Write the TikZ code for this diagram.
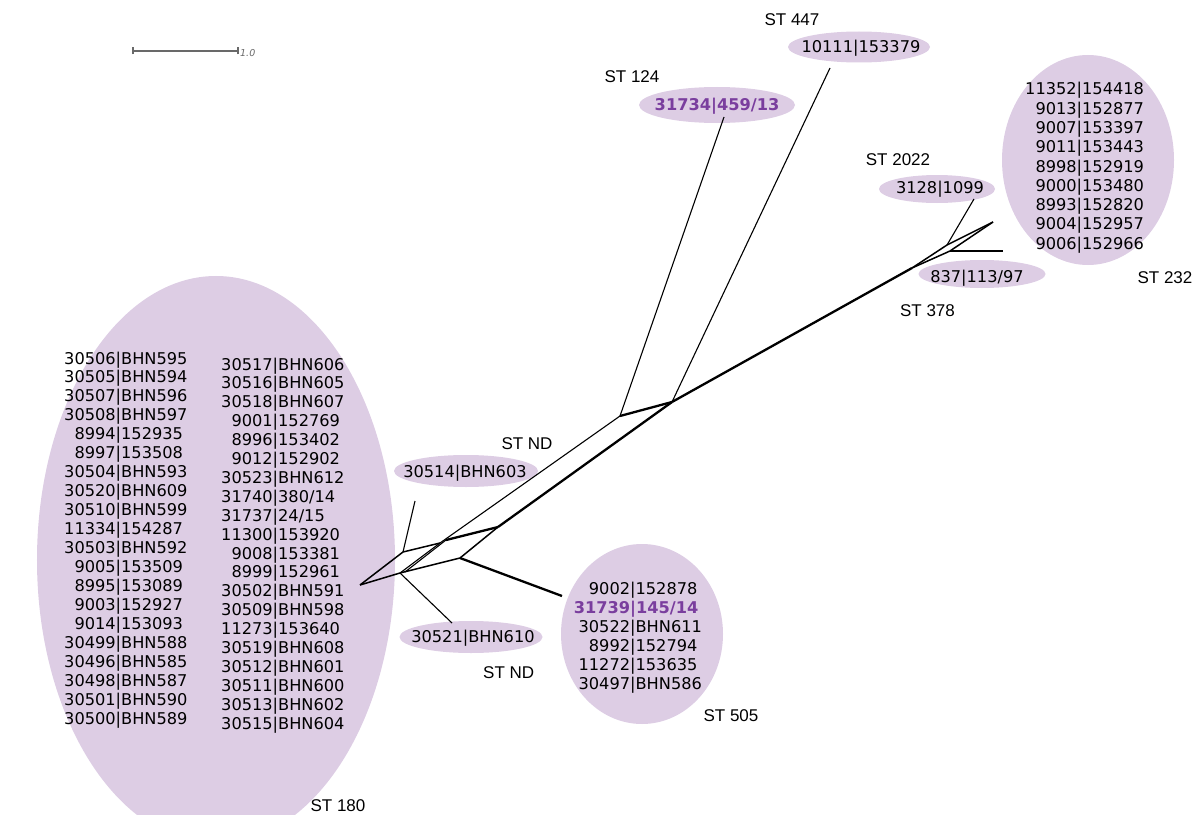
\documentclass[tikz,border=0pt]{standalone}
\usepackage{fontspec}
\setmainfont{DejaVu Sans}
\newfontfamily\lblfont{Liberation Sans}
\usetikzlibrary{shapes.geometric}
\definecolor{blobfill}{RGB}{221,205,228}
\definecolor{hl}{RGB}{122,62,158}
\definecolor{scalegray}{RGB}{105,105,105}
\begin{document}
\begin{tikzpicture}[x=1bp,y=-1bp,
  blob/.style={ellipse, fill=blobfill, draw=none, inner sep=0pt},
  num/.style={font=\fontsize{16.2bp}{19bp}\selectfont, inner sep=0pt, anchor=base},
  numbold/.style={num, font=\fontsize{16.2bp}{19bp}\selectfont\bfseries, text=hl},
  lst/.style={inner sep=0pt, anchor=base west},
  stlbl/.style={font=\lblfont\fontsize{17bp}{20bp}\selectfont, inner sep=0pt, anchor=base},
  lthin/.style={line width=1.1bp},
  lmid/.style={line width=1.5bp},
  lthick/.style={line width=2.3bp},
  sbar/.style={draw=scalegray, line width=1.2bp}
]
\useasboundingbox (0,0) rectangle (1199,815);
\clip (0,0) rectangle (1199,815);

% ---------- cluster ellipses ----------
\node[blob, minimum width=358bp, minimum height=568bp] (c180) at (216,560) {};
\node[blob, minimum width=172bp, minimum height=210bp] (c232) at (1088,160) {};
\node[blob, minimum width=162bp, minimum height=180bp] (c505) at (642,634) {};
\node[blob, minimum width=142bp, minimum height=31bp] (c447) at (859,47) {};
\node[blob, minimum width=156bp, minimum height=36bp] (c124) at (717,105) {};
\node[blob, minimum width=116bp, minimum height=28bp] (c2022) at (937,189) {};
\node[blob, minimum width=127bp, minimum height=28bp] (c378) at (982,274) {};
\node[blob, minimum width=144bp, minimum height=32bp] (cnd1) at (466,471) {};
\node[blob, minimum width=143bp, minimum height=32bp] (cnd2) at (471,637) {};

% ---------- network ----------
\coordinate (T) at (360,585);
\coordinate (A) at (403,552);
\coordinate (E) at (400,573);
\coordinate (E2) at (405,572);
\coordinate (B1) at (440,543);
\coordinate (B2) at (446,540);
\coordinate (C) at (498,527);
\coordinate (D) at (460,558);
\coordinate (P) at (620,416);
\coordinate (Q) at (672,402);
\coordinate (R) at (912,268);
\coordinate (S1) at (947,245);
\coordinate (S2) at (950,251);
\coordinate (U) at (993,222);
\coordinate (LA) at (415,501);
\coordinate (LE) at (452,623);
\coordinate (LD) at (562,596);
\coordinate (L124) at (724,117);
\coordinate (L447) at (830,68);
\coordinate (L2022) at (974,199);
\coordinate (L378) at (1003,251);

\draw[lmid] (T) -- (A);
\draw[lmid] (T) -- (E);
\draw[lthin] (A) -- (LA);
\draw[lthin] (E) -- (LE);
\draw[lmid] (A) -- (B1);
\draw[lthin] (E) -- (B1);
\draw[lthin] (E2) -- (B2);
\draw[lthin] (B1) -- (P);
\draw[lthick] (B2) -- (C);
\draw[lmid] (E) -- (D);
\draw[lmid] (D) -- (C);
\draw[lthick] (D) -- (LD);
\draw[lthick] (C) -- (Q);
\draw[lthick] (P) -- (Q);
\draw[lthin] (P) -- (L124);
\draw[lthin] (Q) -- (L447);
\draw[lthick] (Q) -- (R);
\draw[lmid] (R) -- (S1) -- (U);
\draw[lmid] (R) -- (S2) -- (U);
\draw[lthin] (S1) -- (L2022);
\draw[lthin] (S2) -- (L378);

% ---------- scale bar ----------
\coordinate (sb1) at (133,51);
\coordinate (sb2) at (238,51);
\draw[sbar] (sb1) -- (sb2);
\draw[sbar] ([yshift=-3.5bp]sb1) -- ([yshift=3.5bp]sb1);
\draw[sbar] ([yshift=-3.5bp]sb2) -- ([yshift=3.5bp]sb2);
\node[inner sep=0pt, anchor=base west, text=scalegray,
  font=\fontsize{9.5bp}{11bp}\selectfont\itshape] (sblbl) at (240,56.5) {1.0};

% ---------- single-strain labels ----------
\node[num] (t447) at (861,53) {10111|153379};
\node[numbold] (t124) at (717,111) {31734|459/13};
\node[num] (t2022) at (940,193) {3128|1099};
\node[num] (t378) at (977,282) {837|113/97};
\node[num] (tnd1) at (465,477) {30514|BHN603};
\node[num] (tnd2) at (473,642) {30521|BHN610};

% ---------- multi-strain lists ----------
\node[lst] (l180a) at (64,364) {\fontsize{16.2bp}{18.95bp}\selectfont
\begin{tabular}[t]{@{}r@{}l@{}}
30506 & |BHN595\\
30505 & |BHN594\\
30507 & |BHN596\\
30508 & |BHN597\\
8994 & |152935\\
8997 & |153508\\
30504 & |BHN593\\
30520 & |BHN609\\
30510 & |BHN599\\
11334 & |154287\\
30503 & |BHN592\\
9005 & |153509\\
8995 & |153089\\
9003 & |152927\\
9014 & |153093\\
30499 & |BHN588\\
30496 & |BHN585\\
30498 & |BHN587\\
30501 & |BHN590\\
30500 & |BHN589
\end{tabular}};

\node[lst] (l180b) at (221,370) {\fontsize{16.2bp}{18.9bp}\selectfont
\begin{tabular}[t]{@{}r@{}l@{}}
30517 & |BHN606\\
30516 & |BHN605\\
30518 & |BHN607\\
9001 & |152769\\
8996 & |153402\\
9012 & |152902\\
30523 & |BHN612\\
31740 & |380/14\\
31737 & |24/15\\
11300 & |153920\\
9008 & |153381\\
8999 & |152961\\
30502 & |BHN591\\
30509 & |BHN598\\
11273 & |153640\\
30519 & |BHN608\\
30512 & |BHN601\\
30511 & |BHN600\\
30513 & |BHN602\\
30515 & |BHN604
\end{tabular}};

\node[lst] (l232) at (1025,95) {\fontsize{16.2bp}{19.25bp}\selectfont
\begin{tabular}[t]{@{}r@{}l@{}}
11352 & |154418\\
9013 & |152877\\
9007 & |153397\\
9011 & |153443\\
8998 & |152919\\
9000 & |153480\\
8993 & |152820\\
9004 & |152957\\
9006 & |152966
\end{tabular}};

\node[lst] (l505) at (573.6,594) {\fontsize{16.2bp}{19bp}\selectfont
\begin{tabular}[t]{@{}r@{}l@{}}
9002 & |152878\\
\bfseries\color{hl}31739 & \bfseries\color{hl}|145/14\\
30522 & |BHN611\\
8992 & |152794\\
11272 & |153635\\
30497 & |BHN586
\end{tabular}};

% ---------- ST labels ----------
\node[stlbl] (s447) at (792,25.7) {ST 447};
\node[stlbl] (s124) at (632,82.7) {ST 124};
\node[stlbl] (s2022) at (898,165.7) {ST 2022};
\node[stlbl] (s378) at (927.5,316) {ST 378};
\node[stlbl] (s232) at (1165,283) {ST 232};
\node[stlbl] (snd1) at (527,449.3) {ST ND};
\node[stlbl] (snd2) at (508.7,678.3) {ST ND};
\node[stlbl] (s505) at (731,721.7) {ST 505};
\node[stlbl] (s180) at (338,811.7) {ST 180};
\end{tikzpicture}
\end{document}
